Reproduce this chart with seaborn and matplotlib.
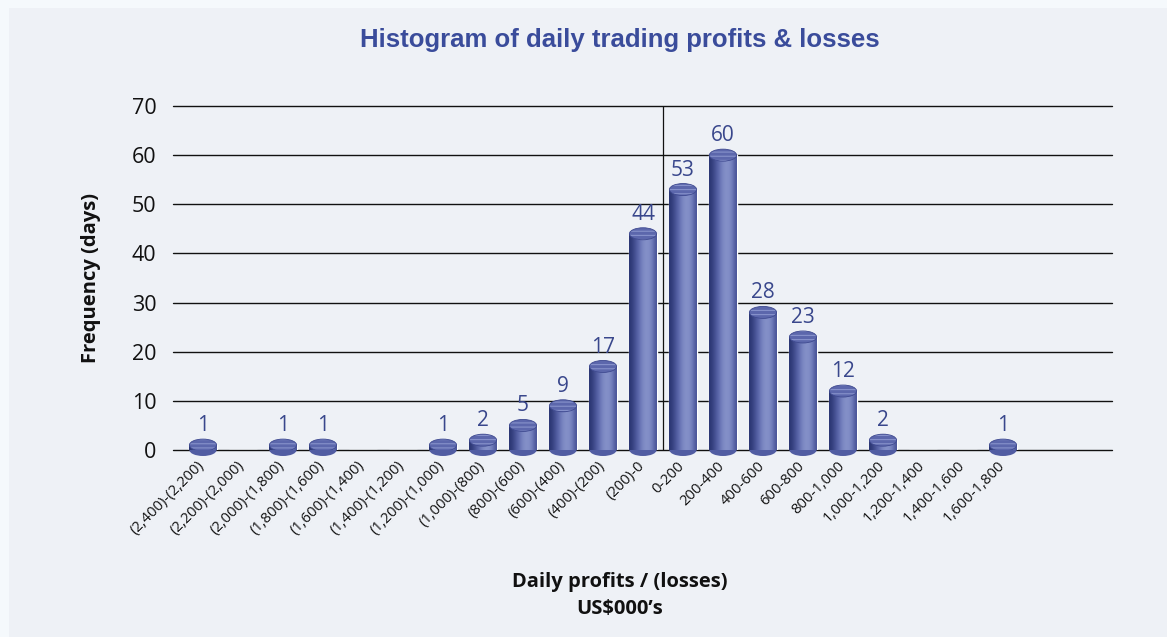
import matplotlib
matplotlib.use("Agg")
import matplotlib.pyplot as plt
import matplotlib.transforms as mtransforms
from matplotlib.patches import Ellipse, Rectangle
import seaborn as sns
import numpy as np
import pandas as pd

# histogram bins (US$000's) and day counts
bins = ["(2,400)-(2,200)", "(2,200)-(2,000)", "(2,000)-(1,800)", "(1,800)-(1,600)",
        "(1,600)-(1,400)", "(1,400)-(1,200)", "(1,200)-(1,000)", "(1,000)-(800)",
        "(800)-(600)", "(600)-(400)", "(400)-(200)", "(200)-0", "0-200", "200-400",
        "400-600", "600-800", "800-1,000", "1,000-1,200", "1,200-1,400",
        "1,400-1,600", "1,600-1,800"]
days = [1, 0, 1, 1, 0, 0, 1, 2, 5, 9, 17, 44, 53, 60, 28, 23, 12, 2, 0, 0, 1]
yticks = [0, 10, 20, 30, 40, 50, 60, 70]

df = pd.DataFrame({"bin": bins, "days": days})

sns.set_theme(style="white")
plt.rcParams["font.family"] = ["Open Sans", "DejaVu Sans"]
plt.rcParams["hatch.linewidth"] = 0.8

fig = plt.figure(figsize=(11.67, 6.37), dpi=100)
fig.patch.set_facecolor("#F5F9FC")
fig.patches.append(Rectangle((9 / 1167, 0), 1, 1 - 8 / 637, transform=fig.transFigure,
                             facecolor="#EEF1F6", edgecolor="none", zorder=-10))

ax = fig.add_axes([173 / 1167, 1 - 450 / 637, (1112 - 173) / 1167, 344 / 637])
ax.set_facecolor("none")

sns.barplot(data=df, x="bin", y="days", color="#7F8AC4", width=0.68, saturation=1,
            ax=ax, zorder=3)

ax.set_xlim(-0.75, 22.725)
ax.set_ylim(0, 70)
ax.set_yticks(yticks)
for t in yticks:
    ax.axhline(t, color="#111111", lw=1.0, zorder=1, clip_on=False)
ax.axvline(bins.index("0-200") - 0.5, color="#111111", lw=0.9, zorder=1)
for s in ax.spines.values():
    s.set_visible(False)

# cylinder look: gradient clipped to each bar, plus top/bottom ellipses
grad = np.array([[0.0, 0.15, 0.35, 0.55, 0.8, 0.95, 1.0, 0.92, 0.7, 0.35]])
cmap = matplotlib.colors.LinearSegmentedColormap.from_list(
    "cyl", ["#2C3775", "#5A65AA", "#8591C9"])
px_per_unit = 344 / 70
ell_h = 12 / px_per_unit
for p, v in zip(ax.patches, days):
    if v <= 0:
        continue
    x0, w = p.get_x(), p.get_width()
    cx = x0 + w / 2
    ax.add_patch(Ellipse((cx, 0), w, ell_h, facecolor="#505CA2", edgecolor="none",
                         zorder=2.9, clip_on=False))
    im = ax.imshow(grad, cmap=cmap, aspect="auto", extent=(x0, x0 + w, 0, v),
                   zorder=3.1, interpolation="bicubic")
    im.set_clip_path(p)
    top = Ellipse((cx, v), w, ell_h, facecolor="#5C67AC", edgecolor="#8792CB",
                  lw=0, hatch="----", zorder=3.5)
    ax.add_patch(top)
    ax.add_patch(Ellipse((cx, v), w, ell_h, facecolor="none", edgecolor="#3F4A90",
                         lw=0.6, zorder=3.6))
    ax.text(cx, v + ell_h / 2 + 0.6, str(v), ha="center", va="bottom",
            fontsize=15, color="#39478C", zorder=4)
ax.set_xlim(-0.75, 22.725)
ax.set_ylim(0, 70)

ax.tick_params(axis="y", length=0, labelsize=15.5, labelcolor="#111111", pad=12)
ax.tick_params(axis="x", length=0, labelsize=10.6, labelcolor="#111111", pad=6)
ax.set_xticks(range(len(bins)))
ax.set_xticklabels(bins, rotation=45, ha="right", rotation_mode="anchor")
shift = mtransforms.ScaledTranslation(-6 / 100, 0, fig.dpi_scale_trans)
for lbl in ax.get_xticklabels():
    lbl.set_transform(lbl.get_transform() + shift)

ax.set_ylabel("Frequency (days)", fontsize=14.5, fontweight="bold", color="#111111")
ax.yaxis.set_label_coords(-(173 - 101) / (1112 - 173), 0.5)
ax.set_xlabel("Daily profits / (losses)\nUS$000\u2019s", fontsize=14.5, fontweight="bold",
              color="#111111", linespacing=1.45)
ax.xaxis.set_label_coords((620 - 173) / (1112 - 173), -(572 - 450) / 344)

fig.text(620 / 1167, 1 - 40 / 637, "Histogram of daily trading profits & losses",
         ha="center", va="center", fontsize=18.5, fontweight="bold", color="#3A4C9B",
         family=["Liberation Sans", "DejaVu Sans"])

fig.savefig("out.png", dpi=100, facecolor=fig.get_facecolor())
